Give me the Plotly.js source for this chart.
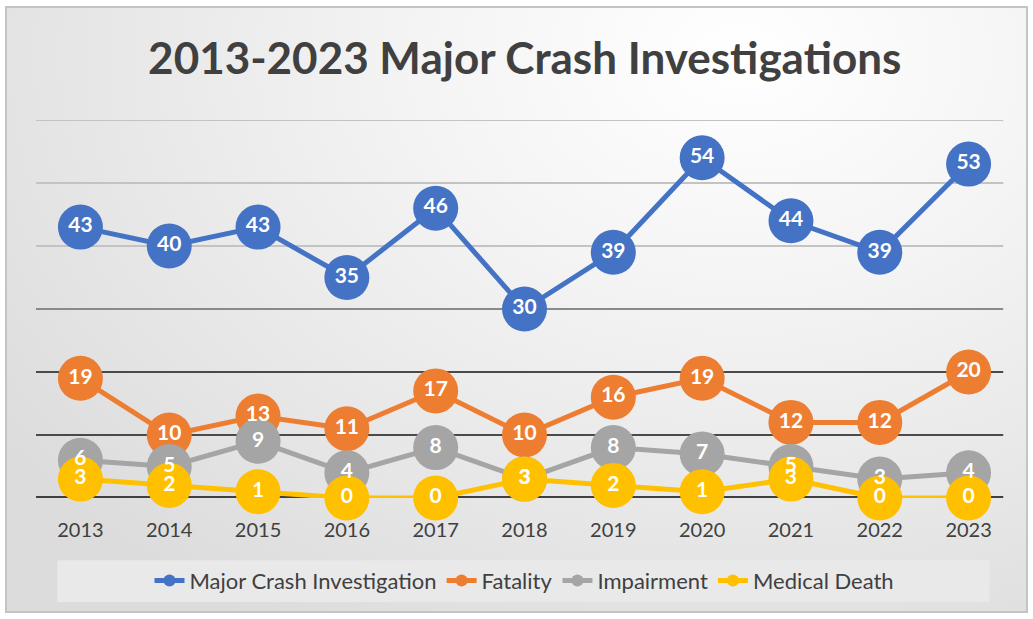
<!DOCTYPE html>
<html><head><meta charset="utf-8">
<script src="https://cdn.plot.ly/plotly-3.0.1.min.js"></script>
<style>
html,body{margin:0;padding:0;background:#fff;}
#frame{position:absolute;left:5px;top:6px;width:1023px;height:607px;border:2px solid #c4c4c4;box-sizing:border-box;
background:radial-gradient(ellipse 90% 110% at 72% 8%, #ffffff 0%, #f4f4f4 35%, #dcdcdc 100%);}
#chart{position:absolute;left:0;top:0;width:1033px;height:619px;}
</style></head>
<body>
<div id="frame"></div>
<div id="chart"></div>
<script>
const years = ['2013','2014','2015','2016','2017','2018','2019','2020','2021','2022','2023'];
const majorCrash = [43,40,43,35,46,30,39,54,44,39,53];
const fatality = [19,10,13,11,17,10,16,19,12,12,20];
const impairment = [6,5,9,4,8,3,8,7,5,3,4];
const medicalDeath = [3,2,1,0,0,3,2,1,3,0,0];
const seriesNames = ['Major Crash Investigation','Fatality','Impairment','Medical Death'];
const gridValues = [10,20,30,40,50,60];

const series = [majorCrash, fatality, impairment, medicalDeath];
const colors = ['#4472c4','#ed7d31','#a5a5a5','#ffc000'];
const FONT = 'Lato, "Open Sans", sans-serif';

const traces = [];
series.forEach((vals,i)=>{
  traces.push({
    x: years, y: vals, name: seriesNames[i], type:'scatter', mode:'lines+markers',
    line:{color:colors[i], width:5},
    marker:{color:colors[i], size:45, line:{width:0}},
    cliponaxis:false, hoverinfo:'skip'
  });
});
series.forEach((vals,i)=>{
  traces.push({
    x: years, y: vals, type:'scatter', mode:'text', showlegend:false,
    text: vals.map(String), textposition:'middle center',
    textfont:{color:'#ffffff', size:21, family:FONT, weight:'bold'},
    cliponaxis:false, hoverinfo:'skip'
  });
});

const gridColor = v => v>=40 ? '#c3c3c3' : (v>=30 ? '#8a8a8a' : '#4a4a4a');
const shapes = gridValues.map(v=>({
  type:'line', xref:'paper', x0:0, x1:0.99, yref:'y', y0:v, y1:v,
  line:{color:gridColor(v), width:2}, layer:'below'
}));
shapes.push({type:'line', xref:'paper', x0:0, x1:0.99, yref:'y', y0:0, y1:0,
  line:{color:'#404040', width:4}, layer:'below'});
// legend background box
shapes.push({type:'rect', xref:'paper', yref:'paper', x0:0.022, x1:0.976, y0:-0.275, y1:-0.165,
  fillcolor:'rgba(233,233,233,0.95)', line:{width:0}, layer:'below'});

const layout = {
  width:1033, height:619,
  margin:{l:36, r:20, t:120, b:121},
  paper_bgcolor:'rgba(0,0,0,0)', plot_bgcolor:'rgba(0,0,0,0)',
  title:{text:'<b>2013-2023 Major Crash Investigations</b>', x:0.508, xanchor:'center', y:0.905, yanchor:'middle',
    font:{family:FONT, size:44, color:'#404040'}},
  xaxis:{type:'category', range:[-0.5,10.5], showgrid:false, zeroline:false, showline:false,
    ticks:'', tickfont:{family:FONT, size:20, color:'#404040'}, ticklabelstandoff:18, fixedrange:true},
  yaxis:{range:[0,60], showgrid:false, zeroline:false, showticklabels:false, showline:false, fixedrange:true},
  shapes:shapes,
  showlegend:true,
  legend:{orientation:'h', x:0.5, xanchor:'center', y:-0.163, yanchor:'top',
    bgcolor:'rgba(0,0,0,0)', font:{family:FONT, size:22, color:'#404040'},
    itemwidth:30, itemsizing:'constant', traceorder:'normal'},
  hovermode:false
};
Plotly.newPlot('chart', traces, layout, {displayModeBar:false, staticPlot:true});
</script>
</body></html>
